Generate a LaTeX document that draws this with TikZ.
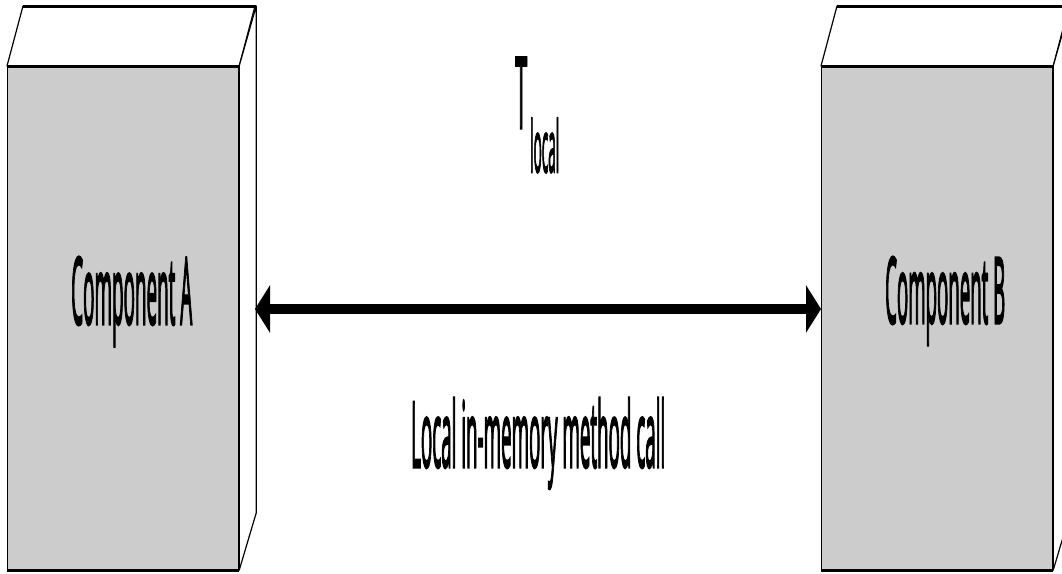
\documentclass[tikz,border=0pt]{standalone}
\usepackage{fontspec}
\usepackage{graphicx}
\setmainfont{Open Sans}
\newfontfamily\medfont{Open Sans}[FakeBold=3.5]
\usetikzlibrary{arrows.meta}
\tikzset{
  front/.style={draw=black, fill=boxgrey, line width=1.2pt, minimum width=231pt, minimum height=503pt, inner sep=0pt, anchor=north west},
  face/.style={draw=black, fill=white, line width=1.2pt, line join=round},
  thickedge/.style={draw=black, line width=3pt},
  lbl/.style={inner sep=0pt, anchor=base west, font=\medfont},
  bigarrow/.style={line width=10pt, {Triangle[length=15pt,width=47pt]}-{Triangle[length=15pt,width=47pt]}}
}
\definecolor{boxgrey}{HTML}{CCCCCC}
\begin{document}
\begin{tikzpicture}[x=1pt,y=-1pt]
\useasboundingbox (0,0) rectangle (1062,573);
\clip (0,0) rectangle (1062,573);
% Component A
\node[front] (A) at (7,66) {};
\draw[face] (A.north west) -- ++(16,-60) -- ++(232,0) -- (A.north east) -- cycle;
\draw[face] (A.north east) -- ++(17,-60) -- ++(0,507) -- (A.south east) -- cycle;
\draw[thickedge] (A.north west) -- (A.north east);
\draw[thickedge] ([xshift=16pt,yshift=60pt]A.north west) -- ([xshift=17pt,yshift=60pt]A.north east);
\draw[thickedge] (A.south west) -- (A.south east);
% Component B
\node[front] (B) at (821,66) {};
\draw[face] (B.north west) -- ++(16,-60) -- ++(232,0) -- (B.north east) -- cycle;
\draw[face] (B.north east) -- ++(17,-60) -- ++(0,507) -- (B.south east) -- cycle;
\draw[thickedge] (B.north west) -- (B.north east);
\draw[thickedge] ([xshift=16pt,yshift=60pt]B.north west) -- ([xshift=17pt,yshift=60pt]B.north east);
\draw[thickedge] (B.south west) -- (B.south east);
% labels
\node[lbl] (la) at (71,324) {\resizebox{121pt}{67pt}{Component A}};
\node[lbl] (lb) at (885,323) {\resizebox{120pt}{66pt}{Component B}};
% arrow
\coordinate (aend) at (255,309);
\coordinate (bend) at (B.west |- aend);
\draw[bigarrow] (aend) -- (bend);
\node[lbl] (T) at (515,128) {\resizebox{12pt}{70pt}{T}};
\node[lbl] (Tsub) at (530,172) {\resizebox{29pt}{54pt}{local}};
\node[lbl] (call) at (411,467) {\resizebox{254pt}{69pt}{Local in-memory method call}};
\end{tikzpicture}
\end{document}
